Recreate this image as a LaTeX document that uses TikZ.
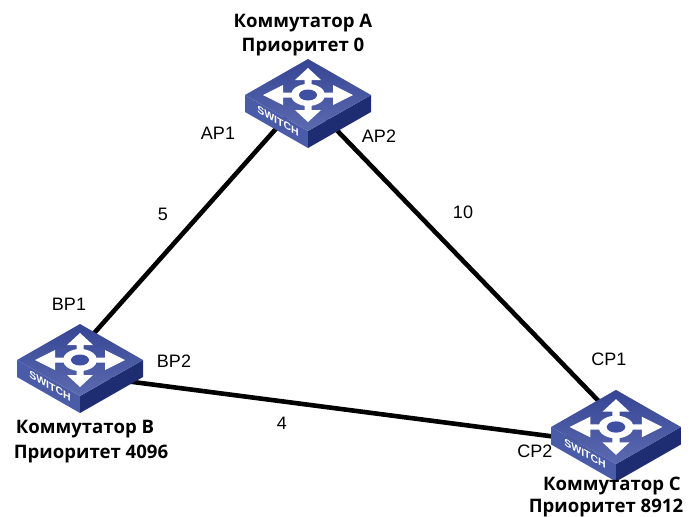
\documentclass[tikz,border=0pt]{standalone}
\usepackage{fontspec}
\setmainfont{Liberation Sans}
\newfontfamily\capfont{Open Sans}

\definecolor{swtop}{HTML}{3F50A2}
\definecolor{swleft}{HTML}{4A5BA8}
\definecolor{swright}{HTML}{1E2C72}

\tikzstyle{port} = [font=\fontsize{18}{18}\selectfont, inner sep=0pt]
\tikzstyle{cost} = [font=\fontsize{18}{18}\selectfont, inner sep=0pt]
\tikzstyle{capt} = [font=\capfont\bfseries\fontsize{18.6}{19}\selectfont, inner sep=0pt]
\tikzstyle{fil} = [line width=4.6pt, black]
\tikzstyle{arrw} = [fill=white, draw=none]

\tikzset{switch/.pic={
	\fill[swleft] (-63,0) -- (0,36) -- (0,53) -- (-63,17) -- cycle;
	\fill[swright] (63,0) -- (0,36) -- (0,53) -- (63,17) -- cycle;
	\shade[top color=swtop!70!swright, bottom color=swtop!85!white] (0,-36) -- (63,0) -- (0,36) -- (-63,0) -- cycle;
	\fill[arrw] (-45,0) -- (-25,-10) -- (-25,-2.5) -- (25,-2.5) -- (25,-10) -- (45,0) -- (25,10) -- (25,2.5) -- (-25,2.5) -- (-25,10) -- cycle;
	\fill[arrw] (0,-27) -- (13,-15) -- (3.5,-15) -- (3.5,15) -- (13,15) -- (0,27) -- (-13,15) -- (-3.5,15) -- (-3.5,-15) -- (-13,-15) -- cycle;
	\fill[white] (0,0) ellipse (17pt and 11pt);
	\fill[swtop] (0,0) ellipse (9pt and 5.5pt);
	\node[text=white, inner sep=0pt, yslant=-0.57, font=\bfseries\fontsize{10.5}{10.5}\selectfont] at (-30,26) {SWITCH};
}}

\begin{document}
\begin{tikzpicture}[x=1pt, y=-1pt]
\useasboundingbox (0,0) rectangle (689,517);

% Port ends of the links
	\coordinate (ap1) at (290,113);
	\coordinate (ap2) at (325,118);
	\coordinate (bp1) at (80,349);
	\coordinate (bp2) at (110,379);
	\coordinate (cp1) at (615,418);
	\coordinate (cp2) at (580,440);

% Links
	\draw[fil] (ap1) -- (bp1);
	\draw[fil] (ap2) -- (cp1);
	\draw[fil] (bp2) -- (cp2);

% Switches
	\pic at (308,95) {switch};
	\pic at (80,360) {switch};
	\pic[scale=1.03] at (616,427) {switch};

% Port labels
	\node[port] at (218,133) (ap1l) {AP1};
	\node[port] at (379,136) (ap2l) {AP2};
	\node[port] at (69,304) (bp1l) {BP1};
	\node[port] at (174,361) (bp2l) {BP2};
	\node[port] at (609,359) (cp1l) {CP1};
	\node[port] at (535,451) (cp2l) {CP2};

% Link costs
	\node[cost] at (163,214) (ab) {5};
	\node[cost] at (463,212) (ac) {10};
	\node[cost] at (282,423) (bc) {4};

% Captions
	\node[capt] at (303,23) (swan) {Коммутатор А};
	\node[capt] at (303,47) (swap) {Приоритет 0};
	\node[capt] at (85,429) (swbn) {Коммутатор B};
	\node[capt] at (91,454) (swbp) {Приоритет 4096};
	\node[capt] at (612,486) (swcn) {Коммутатор С};
	\node[capt] at (606,508) (swcp) {Приоритет 8912};

\end{tikzpicture}
\end{document}
